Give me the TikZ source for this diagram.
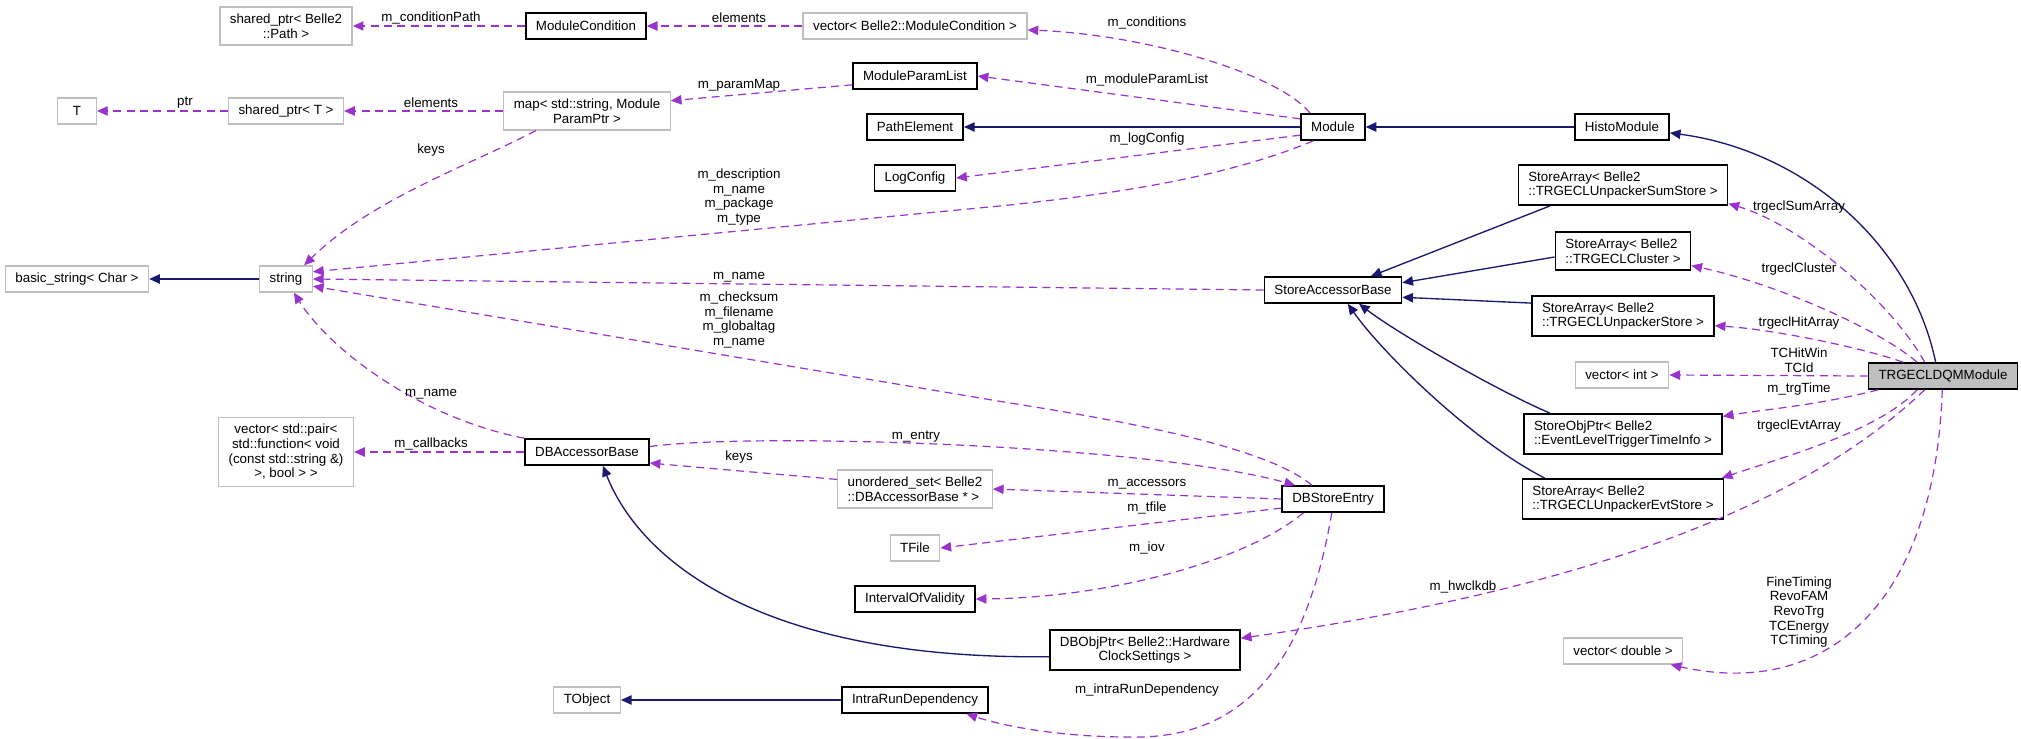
\documentclass[tikz,border=0pt]{standalone}
\usepackage{fontspec}
\setmainfont{Liberation Sans}
\usepackage{xcolor}
\usetikzlibrary{arrows.meta}
\definecolor{usepurple}{HTML}{9A32CD}
\definecolor{inhnavy}{HTML}{191970}
\definecolor{extgrey}{HTML}{BFBFBF}

\begin{document}
\begin{tikzpicture}[
  x=0.75pt, y=-0.75pt,
  box/.style={draw, rectangle, inner xsep=7.5pt, inner ysep=5pt,
              minimum height=19.5pt, font=\fontsize{10pt}{11pt}\selectfont},
  cls/.style={box, draw=black, line width=1.2pt, align=center},
  ext/.style={box, draw=extgrey, line width=1pt, align=center},
  maincls/.style={cls, fill=extgrey},
  usage/.style={-{Triangle[length=8pt,width=7pt]}, usepurple,
                line width=0.9pt, dash pattern=on 6pt off 4pt},
  inherit/.style={-{Triangle[length=8pt,width=7pt]}, inhnavy, line width=1pt},
  elabel/.style={font=\fontsize{10pt}{11pt}\selectfont, align=center, inner sep=0pt}
]
  \useasboundingbox[fill=white] (0,0) rectangle (2021,739);

  %% Classes
  \node[ext] (pathptr) at (286,26) {shared\_ptr< Belle2\\::Path >};
  \node[cls] (modcond) at (586,26) {ModuleCondition};
  \node[ext] (vecmodcond) at (915,26) {vector< Belle2::ModuleCondition >};
  \node[ext, minimum width=29pt] (tcls) at (77,111) {T};
  \node[ext] (sharedt) at (286,111) {shared\_ptr< T >};
  \node[ext] (parammap) at (587,111) {map< std::string, Module\\ParamPtr >};
  \node[cls] (paramlist) at (915,76) {ModuleParamList};
  \node[cls] (pathelem) at (915,127) {PathElement};
  \node[cls] (logcfg) at (915,178) {LogConfig};
  \node[cls] (module) at (1333,127) {Module};
  \node[cls] (histo) at (1622,127) {HistoModule};
  \node[cls, align=left] (sumstore) at (1623,185) {StoreArray< Belle2\\::TRGECLUnpackerSumStore >};
  \node[ext] (basicstr) at (77,279) {basic\_string< Char >};
  \node[ext] (stdstring) at (286,279) {string};
  \node[cls] (storeacc) at (1333,290) {StoreAccessorBase};
  \node[cls, align=left] (cluster) at (1623,251) {StoreArray< Belle2\\::TRGECLCluster >};
  \node[cls, align=left] (unpstore) at (1623,316) {StoreArray< Belle2\\::TRGECLUnpackerStore >};
  \node[ext] (vecint) at (1622,375) {vector< int >};
  \node[maincls] (dqm) at (1943,376) {TRGECLDQMModule};
  \node[cls, align=left] (evtinfo) at (1623,434) {StoreObjPtr< Belle2\\::EventLevelTriggerTimeInfo >};
  \node[cls, align=left] (evtstore) at (1623,499) {StoreArray< Belle2\\::TRGECLUnpackerEvtStore >};
  \node[ext] (callbacks) at (286,452) {vector< std::pair<\\std::function< void\\(const std::string \&)\\>, bool > >};
  \node[cls] (dbacc) at (587,452) {DBAccessorBase};
  \node[cls] (dbstore) at (1333,499) {DBStoreEntry};
  \node[ext, align=left] (uset) at (915,489) {unordered\_set< Belle2\\::DBAccessorBase * >};
  \node[ext] (tfile) at (915,548) {TFile};
  \node[cls] (iov) at (915,599) {IntervalOfValidity};
  \node[cls] (clockset) at (1145,650) {DBObjPtr< Belle2::Hardware\\ClockSettings >};
  \node[ext] (vecdouble) at (1623,651) {vector< double >};
  \node[ext] (tobject) at (587,700) {TObject};
  \node[cls] (intrarun) at (915,700) {IntraRunDependency};

  %% Inheritance
  \draw[inherit] (module.west) -- (pathelem.east);
  \draw[inherit] (histo.west) -- (module.east);
  \draw[inherit] (dqm.118) .. controls (1910,240) and (1800,150) .. (histo.-7);
  \draw[inherit] (sumstore.196) -- (storeacc.20);
  \draw[inherit] (cluster.185) -- (storeacc.6);
  \draw[inherit] (unpstore.172) -- (storeacc.-6);
  \draw[inherit] (evtinfo.164) .. controls (1500,392) and (1400,335) .. (storeacc.-28);
  \draw[inherit] (evtstore.165) .. controls (1470,440) and (1380,350) .. (storeacc.-43);
  \draw[inherit] (stdstring.west) -- (basicstr.east);
  \draw[inherit] (clockset.184) .. controls (760,660) and (640,560) .. (dbacc.-41);
  \draw[inherit] (intrarun.west) -- (tobject.east);

  %% Members
  \draw[usage] (modcond.west) -- (pathptr.east);
  \draw[usage] (vecmodcond.west) -- (modcond.east);
  \draw[usage] (module.149) .. controls (1280,75) and (1150,35) .. (vecmodcond.-2);
  \draw[usage] (module.166) -- (paramlist.east);
  \draw[usage] (module.194) -- (logcfg.east);
  \draw[usage] (module.215) .. controls (1220,180) and (1100,195) .. (1010,205) -- (stdstring.15);
  \draw[usage] (storeacc.west) -- (stdstring.east);
  \draw[usage] (dbstore.147) .. controls (1270,450) and (1150,425) .. (1010,403) -- (stdstring.-15);
  \draw[usage] (dbacc.north west) .. controls (420,418) and (330,350) .. (stdstring.-60);
  \draw[usage] (parammap.201) .. controls (470,165) and (370,200) .. (stdstring.37);
  \draw[usage] (sharedt.west) -- (tcls.east);
  \draw[usage] (parammap.west) -- (sharedt.east);
  \draw[usage] (paramlist.188) -- (parammap.7);
  \draw[usage] (dbacc.west) -- (callbacks.east);
  \draw[usage] (dbacc.5) .. controls (760,432) and (1150,445) .. (dbstore.160);
  \draw[usage] (uset.173) -- (dbacc.-10);
  \draw[usage] (dbstore.west) -- (uset.east);
  \draw[usage] (dbstore.190) -- (tfile.east);
  \draw[usage] (dbstore.205) .. controls (1240,565) and (1100,598) .. (iov.east);
  \draw[usage] (dbstore.-95) .. controls (1310,640) and (1260,735) .. (1140,737)
                .. controls (1060,738) and (1000,725) .. (intrarun.-15);
  \draw[usage] (dqm.143) .. controls (1890,300) and (1800,225) .. (sumstore.-10);
  \draw[usage] (dqm.152) .. controls (1880,330) and (1780,285) .. (cluster.-12);
  \draw[usage] (dqm.161) .. controls (1870,350) and (1780,330) .. (unpstore.-6);
  \draw[usage] (dqm.west) -- (vecint.east);
  \draw[usage] (dqm.192) .. controls (1820,405) and (1760,410) .. (evtinfo.10);
  \draw[usage] (dqm.208) .. controls (1880,430) and (1790,455) .. (evtstore.12);
  \draw[usage] (dqm.217) .. controls (1830,480) and (1650,580) .. (clockset.7);
  \draw[usage] (dqm.-93) .. controls (1935,600) and (1830,700) .. (vecdouble.-16);

  %% Member names
  \node[elabel] (lcondpath) at (431,18) {m\_conditionPath};
  \node[elabel] (lelemcond) at (739,18) {elements};
  \node[elabel] (lconditions) at (1147,23) {m\_conditions};
  \node[elabel] (lptr) at (185,103) {ptr};
  \node[elabel] (lelemmap) at (431,103) {elements};
  \node[elabel] (lparammap) at (739,85) {m\_paramMap};
  \node[elabel] (lmodparam) at (1147,80) {m\_moduleParamList};
  \node[elabel] (llogcfg) at (1147,139) {m\_logConfig};
  \node[elabel] (lkeysmap) at (431,150) {keys};
  \node[elabel] (ldescr) at (739,197) {m\_description\\m\_name\\m\_package\\m\_type};
  \node[elabel] (lnamesa) at (739,277) {m\_name};
  \node[elabel] (lchecksum) at (739,320) {m\_checksum\\m\_filename\\m\_globaltag\\m\_name};
  \node[elabel] (lnamedb) at (431,394) {m\_name};
  \node[elabel] (lcallbacks) at (431,444) {m\_callbacks};
  \node[elabel] (lentry) at (916,437) {m\_entry};
  \node[elabel] (lkeysset) at (739,457) {keys};
  \node[elabel] (laccessors) at (1147,484) {m\_accessors};
  \node[elabel] (ltfile) at (1147,508) {m\_tfile};
  \node[elabel] (liov) at (1147,548) {m\_iov};
  \node[elabel] (lintrarun) at (1147,690) {m\_intraRunDependency};
  \node[elabel] (lhwclk) at (1463,587) {m\_hwclkdb};
  \node[elabel] (lsumarr) at (1799,207) {trgeclSumArray};
  \node[elabel] (lcluster) at (1799,269) {trgeclCluster};
  \node[elabel] (lhitarr) at (1799,323) {trgeclHitArray};
  \node[elabel] (ltchit) at (1799,360) {TCHitWin\\TCId};
  \node[elabel] (ltrgtime) at (1799,389) {m\_trgTime};
  \node[elabel] (levtarr) at (1799,426) {trgeclEvtArray};
  \node[elabel] (lfine) at (1799,612) {FineTiming\\RevoFAM\\RevoTrg\\TCEnergy\\TCTiming};

\end{tikzpicture}
\end{document}
